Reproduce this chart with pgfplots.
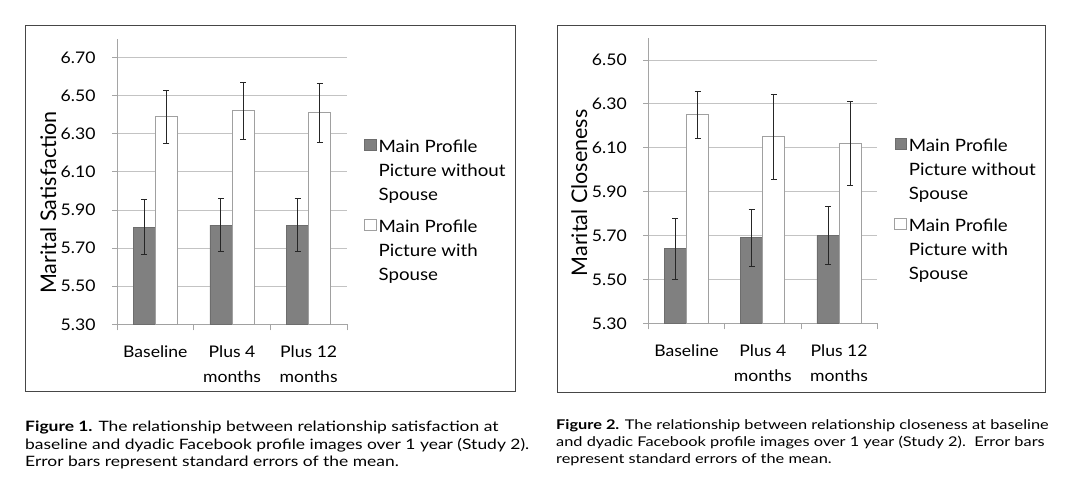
\documentclass[border=0pt]{standalone}
\usepackage{fontspec}
\setmainfont{Lato}[FakeStretch=1.1]
\newfontfamily\labelfont{Lato}
\newfontfamily\capfont{Lato}[FakeStretch=1.22]
\usepackage{pgfplots}
\pgfplotsset{compat=1.18}

\definecolor{barDark}{RGB}{128,128,128}
\definecolor{barEdge}{RGB}{160,160,160}
\definecolor{gridC}{RGB}{195,195,195}
\definecolor{axisC}{RGB}{165,165,165}
\definecolor{frameC}{RGB}{70,70,70}

\pgfplotsset{
  marital/.style={
    scale only axis,
    xmin=-0.5, xmax=2.5, ymin=5.30,
    axis x line*=bottom, axis y line*=left,
    axis line style={draw=axisC, line width=0.9pt, -},
    xtick={0,1,2},
    xticklabels={Baseline, Plus 4\\months, Plus 12\\months},
    xtick style={draw=none},
    minor xtick={-0.5,0.5,1.5,2.5},
    minor x tick style={draw=axisC, line width=0.9pt},
    minor tick length=6pt,
    tick align=outside,
    ytick style={draw=axisC, line width=0.9pt},
    major tick length=5pt,
    ymajorgrids, grid style={draw=gridC, line width=0.9pt},
    yticklabel={\pgfmathprintnumber[fixed, fixed zerofill, precision=2]{\tick}},
    /pgf/number format/assume math mode=true,
    ticklabel style={font=\fontsize{16}{24.5}\selectfont},
    xticklabel style={align=center, yshift=-13pt},
    yticklabel style={xshift=-13pt},
    label style={font=\labelfont\fontsize{21.5}{24}\selectfont},
    legend style={draw=none, fill=none, inner sep=0pt, row sep=14pt,
      font=\fontsize{17}{24}\selectfont,
      cells={anchor=north west, align=left}},
    legend image code/.code={\draw[#1] (0pt,-13pt) rectangle (11.5pt,-1.5pt);},
    error bars/y dir=both, error bars/y explicit,
    error bars/error bar style={draw=black!85, line width=0.8pt},
    error bars/error mark options={rotate=90, mark size=3pt, draw=black!85, line width=0.8pt},
  },
  darkbar/.style={ybar, bar width=0.29, bar shift=0, fill=barDark, draw=barDark!85!black, line width=0.5pt},
  whitebar/.style={ybar, bar width=0.29, bar shift=0, fill=white, draw=barEdge, line width=0.9pt},
}

\begin{document}
\begin{tikzpicture}
\useasboundingbox (0pt,0pt) rectangle (1080pt,-484pt);

% frames round the two charts
\draw[frameC, line width=0.9pt] (25pt,-25pt) rectangle (515pt,-391pt);
\draw[frameC, line width=0.9pt] (557pt,-25pt) rectangle (1045pt,-392pt);

% Figure 1: marital satisfaction (bars at category -/+ 0.145)
\begin{axis}[marital,
  at={(117pt,-324.3pt)}, anchor=south west,
  width=230pt, height=285.8pt,
  ymax=6.80,
  ytick={5.30,5.50,5.70,5.90,6.10,6.30,6.50,6.70},
  ylabel={Marital Satisfaction},
  ylabel style={at={(axis description cs:-0.299,0.426)}, anchor=center},
  legend style={at={(axis description cs:1.074,0.655)}, anchor=north west},
]
\addplot[darkbar] coordinates {(-0.145,5.81) +- (0,0.145) (0.855,5.82) +- (0,0.14) (1.855,5.82) +- (0,0.14)};
\addlegendentry{Main Profile\\Picture without\\Spouse}
\addplot[whitebar] coordinates {(0.145,6.39) +- (0,0.14) (1.145,6.42) +- (0,0.15) (2.145,6.41) +- (0,0.155)};
\addlegendentry{Main Profile\\Picture with\\Spouse}
\end{axis}

% Figure 2: marital closeness
\begin{axis}[marital,
  at={(648.3pt,-323.3pt)}, anchor=south west,
  width=229pt, height=285.2pt,
  ymax=6.60,
  ytick={5.30,5.50,5.70,5.90,6.10,6.30,6.50},
  ylabel={Marital Closeness},
  ylabel style={at={(axis description cs:-0.301,0.457)}, anchor=center},
  legend style={at={(axis description cs:1.074,0.655)}, anchor=north west},
]
\addplot[darkbar] coordinates {(-0.145,5.64) +- (0,0.14) (0.855,5.69) +- (0,0.13) (1.855,5.70) +- (0,0.133)};
\addlegendentry{Main Profile\\Picture without\\Spouse}
\addplot[whitebar] coordinates {(0.145,6.25) +- (0,0.107) (1.145,6.15) +- (0,0.195) (2.145,6.12) +- (0,0.19)};
\addlegendentry{Main Profile\\Picture with\\Spouse}
\end{axis}

% captions
\node[anchor=north west, align=left, inner sep=0pt, font=\capfont\fontsize{14.3}{17.5}\selectfont]
  at (25pt,-421pt) {\textbf{Figure 1.} The relationship between relationship satisfaction at\\
  baseline and dyadic Facebook profile images over 1 year (Study 2).\\
  Error bars represent standard errors of the mean.};
\node[anchor=north west, align=left, inner sep=0pt, font=\capfont\fontsize{13.4}{17.3}\selectfont]
  at (556pt,-419pt) {\textbf{Figure 2.} The relationship between relationship closeness at baseline\\
  and dyadic Facebook profile images over 1 year (Study 2).~~Error bars\\
  represent standard errors of the mean.};
\end{tikzpicture}
\end{document}
